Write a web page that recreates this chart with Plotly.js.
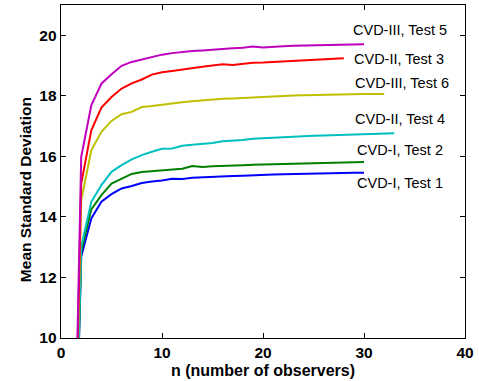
<!DOCTYPE html>
<html>
<head>
<meta charset="utf-8">
<script src="https://cdn.plot.ly/plotly-3.0.1.min.js"></script>
<style>html,body{margin:0;padding:0;background:#fff;}#chart{width:479px;height:381px;}</style>
</head>
<body>
<div id="chart"></div>
<script>
const labels = ["CVD-I, Test 1","CVD-I, Test 2","CVD-II, Test 4","CVD-III, Test 6","CVD-II, Test 3","CVD-III, Test 5"];
const test1 = [0,12.68,13.95,14.50,14.75,14.94,15.02,15.12,15.17,15.20,15.26,15.25,15.29,15.31,15.32,15.33,15.35,15.36,15.38,15.39,15.40,15.41,15.42,15.43,15.44,15.44,15.45,15.45,15.46,15.46];
const test2 = [0,12.85,14.25,14.72,15.10,15.27,15.42,15.48,15.51,15.54,15.57,15.59,15.68,15.65,15.67,15.69,15.70,15.71,15.72,15.73,15.74,15.75,15.76,15.77,15.78,15.79,15.80,15.80,15.81,15.81];
const test4 = [0,13.01,14.50,15.05,15.49,15.71,15.90,16.04,16.15,16.25,16.26,16.35,16.38,16.41,16.44,16.50,16.51,16.54,16.58,16.60,16.62,16.64,16.65,16.67,16.68,16.69,16.70,16.71,16.72,16.73,16.74,16.75,16.76];
const test6 = [0,14.55,16.20,16.81,17.17,17.39,17.47,17.63,17.66,17.71,17.76,17.79,17.82,17.85,17.88,17.90,17.91,17.93,17.95,17.96,17.98,18.00,18.01,18.02,18.03,18.04,18.04,18.05,18.05,18.06,18.06,18.06];
const test3 = [0,15.10,16.86,17.61,17.96,18.24,18.41,18.54,18.70,18.78,18.82,18.87,18.93,18.96,19.00,19.04,19.02,19.06,19.09,19.10,19.12,19.14,19.16,19.18,19.20,19.21,19.23,19.24];
const test5 = [0,15.98,17.69,18.40,18.71,18.99,19.12,19.20,19.28,19.36,19.41,19.45,19.48,19.50,19.53,19.55,19.57,19.59,19.63,19.60,19.63,19.64,19.65,19.66,19.67,19.68,19.69,19.69,19.70,19.70];
const labelX = [33.6,33.6,33.6,33.8,33.5,33.6];
const labelY = [15.13,16.20,17.25,18.44,19.21,20.19];
const xTicks = [0,10,20,30,40];
const yTicks = [10,12,14,16,18,20];

const series = [test1,test2,test4,test6,test3,test5];
const colors = ["#0000ff","#008000","#00bfbf","#bfbf00","#ff0000","#bf00bf"];
const traces = series.map((s,i)=>({
  x: s.map((_,k)=>k+1), y: s, mode:'lines', type:'scatter',
  line:{color:colors[i], width:2}, name:labels[i], hoverinfo:'skip'
}));
const font = "Liberation Sans, Arial, Helvetica, sans-serif";
const ann = labels.map((t,i)=>({x:labelX[i], y:labelY[i], xref:'x', yref:'y', text:t, showarrow:false,
  xanchor:'center', yanchor:'middle', font:{family:font, size:14.5, color:'#000'}}));
ann.push({xref:'paper', yref:'paper', x:0.5, y:-0.098, text:'<b>n (number of observers)</b>', showarrow:false,
  xanchor:'center', yanchor:'middle', font:{family:font, size:16, color:'#000'}});
ann.push({xref:'paper', yref:'paper', x:-0.0891, y:0.444, text:'<b>Mean Standard Deviation</b>', showarrow:false, textangle:-90,
  xanchor:'center', yanchor:'middle', font:{family:font, size:15.5, color:'#000'}});
const axisCommon = {showgrid:false, zeroline:false, showline:true, linecolor:'#000', linewidth:1.3, mirror:'ticks',
  ticks:'inside', ticklen:5, tickwidth:1, tickcolor:'#000', tickfont:{family:font, size:15.5, color:'#000', weight:'bold'}};
const layout = {
  width:479, height:381, margin:{l:61, r:14, t:5, b:43}, showlegend:false,
  paper_bgcolor:'#fff', plot_bgcolor:'#fff',
  xaxis:Object.assign({}, axisCommon, {range:[0,40], tickvals:xTicks, ticktext:xTicks.map(String)}),
  yaxis:Object.assign({}, axisCommon, {range:[10,21], tickvals:yTicks, ticktext:yTicks.map(String)}),
  annotations:ann
};
Plotly.newPlot('chart', traces, layout, {staticPlot:true});
</script>
</body>
</html>
